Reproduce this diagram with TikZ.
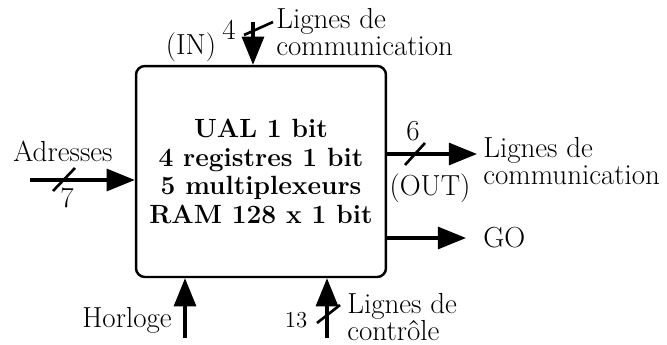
\documentclass[tikz,border=0pt]{standalone}
\usepackage{tikz}
\usetikzlibrary{arrows.meta}

\tikzset{
  sig/.style={line width=1.8pt, -{Triangle[length=16pt,width=12.5pt]}},
  bus/.style={line width=1.5pt},
  lbl/.style={font=\fontsize{16.5}{13.5}\selectfont, align=left},
}

\begin{document}
\begin{tikzpicture}[x=0.02cm,y=0.02cm]
			\tikzstyle{every node}+=[inner sep=0pt]
			\useasboundingbox (0,0) rectangle (667,-345);
			% le bloc
			\node [draw, line width=1.4pt, rounded corners=5pt, minimum width=5cm, minimum height=4.22cm, align=center, font=\fontsize{15}{16.4}\selectfont\bfseries] (ual) at (261,-171.5) {UAL 1 bit\\4 registres 1 bit\\5 multiplexeurs\\RAM 128 x 1 bit};
			% entrees
			\coordinate (comin) at (253,-22);
			\draw [sig] (comin) -- (comin |- ual.north);
			\draw [bus] (244,-35) -- (273,-22);
			\node [lbl] (comintxt) at (276,-32) [anchor=west] {Lignes de\\communication};
			\node [lbl] (nin) at (229,-30) {4};
			\node [lbl] (in) at (191,-47) {(IN)};
			\coordinate (adr) at (30,-180);
			\draw [sig] (adr) -- (adr -| ual.west);
			\draw [bus] (53,-191) -- (75,-168);
			\node [lbl] (adrtxt) at (63,-151) {Adresses};
			\node [lbl] (nadr) at (67,-198) {7};
			\coordinate (clk) at (185,-338);
			\draw [sig] (clk) -- (clk |- ual.south);
			\node [lbl, anchor=east] (clktxt) at (172,-320) {Horloge};
			\coordinate (ctl) at (327,-338);
			\draw [sig] (ctl) -- (ctl |- ual.south);
			\draw [bus] (317,-323) -- (340,-305);
			\node [lbl, anchor=west] (ctltxt) at (347,-317) {Lignes de\\contr\^ole};
			\node [lbl, font=\fontsize{13}{13}\selectfont] (nctl) at (296,-320) {13};
			% sorties
			\coordinate (comout) at (477,-154);
			\draw [sig] (comout -| ual.east) -- (comout);
			\draw [bus] (405,-165) -- (425,-143);
			\node [lbl] (nout) at (413,-131) {6};
			\node [lbl] (out) at (430,-188) {(OUT)};
			\node [lbl, anchor=west, font=\fontsize{16.5}{15.5}\selectfont] (comouttxt) at (483,-161) {Lignes de\\communication};
			\coordinate (go) at (466,-238);
			\draw [sig] (go -| ual.east) -- (go);
			\node [lbl, anchor=west] (gotxt) at (483,-238) {GO};
\end{tikzpicture}
\end{document}
